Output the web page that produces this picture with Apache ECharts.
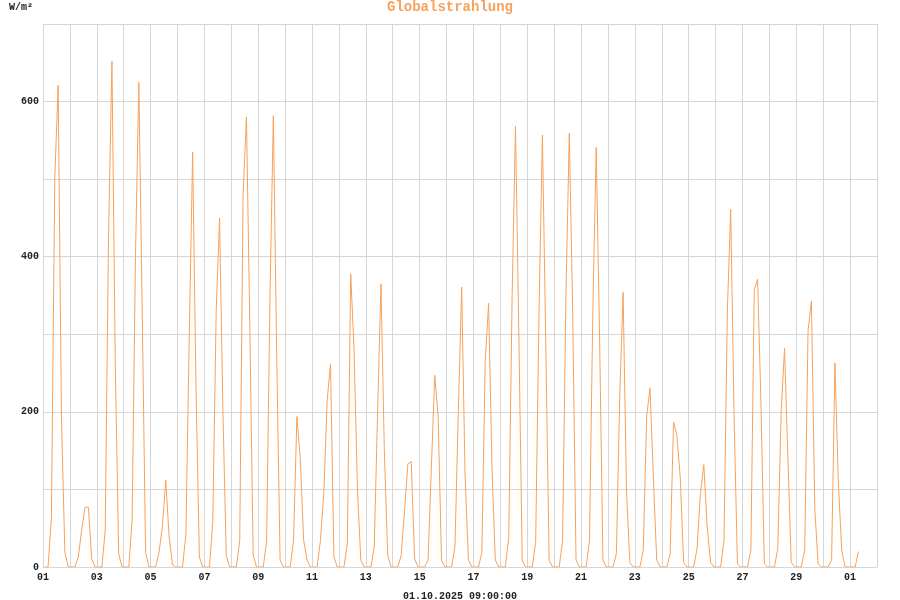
<!DOCTYPE html>
<html>
<head>
<meta charset="utf-8">
<title>Globalstrahlung</title>
<script src="https://cdn.jsdelivr.net/npm/echarts@6/dist/echarts.min.js"></script>
<style>
  html, body { margin: 0; padding: 0; background: #fff; }
  #chart { width: 900px; height: 600px; }
</style>
</head>
<body>
<div id="chart"></div>
<script>
  // Messzeitpunkte pro Tag (Stunden)
  var sampleHours = [1.5, 4.5, 7.5, 10.5, 13.5, 16.5, 19.5, 22.5];

  // Tageslabels: 01.09. ... 30.09., 01.10.
  var dayLabels = ['01','02','03','04','05','06','07','08','09','10',
                   '11','12','13','14','15','16','17','18','19','20',
                   '21','22','23','24','25','26','27','28','29','30','01'];

  // Globalstrahlung W/m², eine Zeile pro Tag
  var dailyValues = [
    [0, 0, 64, 500, 621, 190, 19, 0],   // 01.09.
    [0, 0, 13, 48, 77, 77, 10, 0],
    [0, 0, 47, 430, 652, 260, 17, 0],
    [0, 0, 60, 400, 625, 330, 19, 0],
    [0, 0, 19, 52, 112, 40, 3, 0],
    [0, 0, 43, 300, 535, 230, 13, 0],
    [0, 0, 60, 330, 450, 200, 15, 0],
    [0, 0, 34, 480, 580, 310, 15, 0],
    [0, 0, 34, 350, 582, 270, 9, 0],
    [0, 0, 34, 194, 140, 35, 9, 0],     // 10.09.
    [0, 0, 34, 95, 215, 262, 13, 0],
    [0, 0, 30, 378, 280, 100, 9, 0],
    [0, 0, 26, 200, 365, 150, 15, 0],
    [0, 0, 15, 72, 133, 136, 11, 0],
    [0, 0, 9, 130, 247, 194, 9, 0],
    [0, 0, 26, 200, 361, 120, 9, 0],
    [0, 0, 19, 265, 340, 130, 9, 0],
    [0, 0, 39, 350, 568, 300, 9, 0],
    [0, 0, 32, 330, 557, 290, 9, 0],
    [0, 0, 34, 350, 559, 330, 9, 0],    // 20.09.
    [0, 0, 34, 330, 541, 300, 9, 0],
    [0, 0, 17, 220, 354, 100, 6, 0],
    [0, 0, 22, 194, 231, 115, 9, 0],
    [0, 0, 17, 187, 170, 115, 6, 0],
    [0, 0, 24, 95, 132, 52, 6, 0],
    [0, 0, 34, 330, 461, 194, 4, 0],
    [0, 0, 22, 357, 371, 210, 4, 0],
    [0, 0, 24, 200, 282, 140, 6, 0],
    [0, 0, 22, 305, 343, 75, 4, 0],
    [0, 0, 9, 263, 110, 22, 0, 0],      // 30.09.
    [0, 0, 20]                          // 01.10.
  ];

  var yTicks = [0, 100, 200, 300, 400, 500, 600, 700];
  var stamp = '01.10.2025 09:00:00';

  var orange = '#f7a15a';
  var gridGray = '#d6d6d6';
  var mono = '"Liberation Mono", "DejaVu Sans Mono", monospace';

  // x = Tag (0 = 01.09. 00:00) + Stunde/24
  var points = [];
  dailyValues.forEach(function (row, d) {
    row.forEach(function (v, i) {
      points.push([d + sampleHours[i] / 24, v]);
    });
  });

  var myChart = echarts.init(document.getElementById('chart'), null, { renderer: 'canvas' });
  var option = {
    backgroundColor: '#fff',
    animation: false,
    title: {
      text: 'Globalstrahlung',
      left: 'center',
      top: 0,
      padding: 0,
      textStyle: {
        color: orange,
        fontFamily: mono,
        fontSize: 14,
        fontWeight: 'bold'
      }
    },
    grid: {
      left: 43,
      right: 23,
      top: 24,
      bottom: 33,
      containLabel: false,
      outerBoundsMode: 'none'
    },
    xAxis: {
      type: 'value',
      min: 0,
      max: 31,
      interval: 1,
      name: stamp,
      nameLocation: 'middle',
      nameGap: 24,
      nameTextStyle: {
        color: '#222',
        fontFamily: mono,
        fontSize: 10,
        fontWeight: 'bold'
      },
      axisLine: { show: true, lineStyle: { color: gridGray } },
      axisTick: { show: false },
      axisLabel: {
        color: '#222',
        fontFamily: mono,
        fontSize: 10,
        fontWeight: 'bold',
        margin: 5,
        formatter: function (v) {
          return v % 2 === 0 && dayLabels[v] ? dayLabels[v] : '';
        }
      },
      splitLine: { show: true, lineStyle: { color: gridGray, width: 1 } }
    },
    yAxis: {
      type: 'value',
      min: yTicks[0],
      max: yTicks[yTicks.length - 1],
      interval: 100,
      name: 'W/m²',
      nameLocation: 'end',
      nameGap: 12,
      nameTextStyle: {
        color: '#222',
        fontFamily: mono,
        fontSize: 10,
        fontWeight: 'bold',
        align: 'right',
        padding: [0, 10, 0, 0]
      },
      axisLine: { show: true, lineStyle: { color: gridGray } },
      axisTick: { show: false },
      axisLabel: {
        color: '#222',
        fontFamily: mono,
        fontSize: 10,
        fontWeight: 'bold',
        margin: 4,
        formatter: function (v) {
          return v % 200 === 0 ? String(v) : '';
        }
      },
      splitLine: { show: true, lineStyle: { color: gridGray, width: 1 } }
    },
    series: [{
      type: 'line',
      data: points,
      symbol: 'none',
      smooth: false,
      lineStyle: { color: orange, width: 1 },
      itemStyle: { color: orange }
    }]
  };
  myChart.setOption(option);
</script>
</body>
</html>
